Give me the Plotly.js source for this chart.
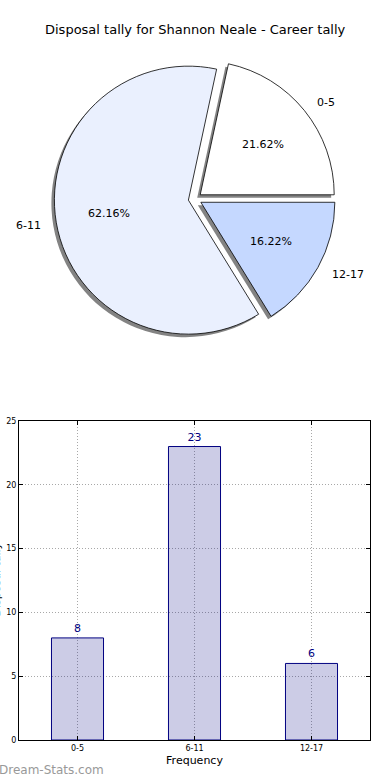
<!DOCTYPE html>
<html>
<head>
<meta charset="utf-8">
<script src="https://cdn.plot.ly/plotly-3.0.1.min.js"></script>
<style>html,body{margin:0;padding:0;background:#fff;}#chart{width:390px;height:780px;}</style>
</head>
<body>
<div id="chart"></div>
<script>
const categories = ["0-5", "6-11", "12-17"];
const counts = [8, 23, 6];
const pieColors = ["#ffffff", "#eaf0fe", "#c5d8ff"];
const chartTitle = "Disposal tally for Shannon Neale - Career tally";
const xTitle = "Frequency";
const yTitle = "Disposal tally";
const yTicks = [0, 5, 10, 15, 20, 25];

const W = 390, H = 780;
const pull = 0.05;
const r = 134;               // pie radius in px
const cxPx = 195, cyPx = 199; // pie centre in px
const R = r * (1 + pull);
const dom = (cx, cy) => ({
  x: [(cx - R) / W, (cx + R) / W],
  y: [1 - (cy + R) / H, 1 - (cy - R) / H]
});

const total = counts.reduce((a, b) => a + b, 0);
// first slice starts at 3 o'clock and runs counter-clockwise
const rotation = 90 - 360 * counts[0] / total;

const annotations = [];
let start = 0;
counts.forEach((v, i) => {
  const frac = v / total;
  const mid = (start + frac / 2) * 2 * Math.PI;
  start += frac;
  const c = Math.cos(mid), s = Math.sin(mid);
  const ox = cxPx + pull * r * c, oy = cyPx - pull * r * s;
  annotations.push({
    xref: "paper", yref: "paper",
    x: (ox + 0.6 * r * c) / W, y: 1 - (oy - 0.6 * r * s) / H,
    text: (frac * 100).toFixed(2) + "%", showarrow: false,
    font: { family: "DejaVu Sans", size: 11, color: "#000" },
    xanchor: "center", yanchor: "middle"
  });
  annotations.push({
    xref: "paper", yref: "paper",
    x: (ox + 1.1 * r * c) / W, y: 1 - (oy - 1.1 * r * s) / H,
    text: categories[i], showarrow: false,
    font: { family: "DejaVu Sans", size: 11, color: "#000" },
    xanchor: c >= 0 ? "left" : "right", yanchor: "middle"
  });
});

annotations.push({
  xref: "paper", yref: "paper", x: 0.5, y: 1 - 30 / H,
  text: chartTitle, showarrow: false,
  font: { family: "DejaVu Sans", size: 13, color: "#000" },
  xanchor: "center", yanchor: "middle"
});
annotations.push({
  xref: "paper", yref: "paper", x: 4 / W, y: 1 - 580 / H,
  text: yTitle, showarrow: false, textangle: -90,
  font: { family: "DejaVu Sans", size: 11, color: "#000" },
  xanchor: "right", yanchor: "middle"
});
annotations.push({
  xref: "paper", yref: "paper", x: -3 / W, y: 1 - 770 / H,
  text: "Dream-Stats.com", showarrow: false,
  font: { family: "DejaVu Sans", size: 12, color: "#999999" },
  xanchor: "left", yanchor: "middle"
});

const shadow = {
  type: "pie", values: counts, labels: categories, sort: false,
  direction: "counterclockwise", rotation: rotation,
  pull: counts.map(() => pull),
  marker: { colors: counts.map(() => "rgba(90,90,90,0.75)"), line: { width: 0 } },
  textinfo: "none", hoverinfo: "skip", showlegend: false,
  domain: dom(cxPx - 3, cyPx + 3)
};
const pie = {
  type: "pie", values: counts, labels: categories, sort: false,
  direction: "counterclockwise", rotation: rotation,
  pull: counts.map(() => pull),
  marker: { colors: pieColors, line: { color: "#000", width: 0.8 } },
  textinfo: "none", showlegend: false,
  domain: dom(cxPx, cyPx)
};
const bars = {
  type: "bar", x: categories, y: counts, width: 0.445,
  marker: { color: "rgba(0,0,128,0.2)", line: { color: "#000080", width: 1 } },
  text: counts.map(String), textposition: "outside", cliponaxis: false,
  textfont: { family: "DejaVu Sans", size: 11, color: "#000080" },
  xaxis: "x", yaxis: "y", showlegend: false
};

const layout = {
  width: W, height: H,
  margin: { l: 0, r: 0, t: 0, b: 0 },
  paper_bgcolor: "#fff", plot_bgcolor: "#fff",
  showlegend: false,
  font: { family: "DejaVu Sans", color: "#000" },
  xaxis: {
    domain: [19 / W, 370 / W], range: [-0.5, 2.5], type: "category",
    showline: true, mirror: "ticks", linecolor: "#000", linewidth: 1,
    ticks: "inside", ticklen: 4, tickcolor: "#000",
    showgrid: true, gridcolor: "#a8a8a8", griddash: "1px,2px", gridwidth: 1,
    tickfont: { family: "DejaVu Sans", size: 8, color: "#000" },
    title: { text: xTitle, font: { family: "DejaVu Sans", size: 11, color: "#000" }, standoff: 4 },
    anchor: "y", fixedrange: true
  },
  yaxis: {
    domain: [1 - 740 / H, 1 - 421 / H], range: [0, 25],
    tickvals: yTicks,
    showline: true, mirror: "ticks", linecolor: "#000", linewidth: 1,
    ticks: "inside", ticklen: 4, tickcolor: "#000",
    showgrid: true, gridcolor: "#a8a8a8", griddash: "1px,2px", gridwidth: 1,
    zeroline: false,
    tickfont: { family: "DejaVu Sans", size: 8, color: "#000" },
    anchor: "x", fixedrange: true
  },
  annotations: annotations
};

Plotly.newPlot("chart", [shadow, pie, bars], layout, { staticPlot: true });
</script>
</body>
</html>
